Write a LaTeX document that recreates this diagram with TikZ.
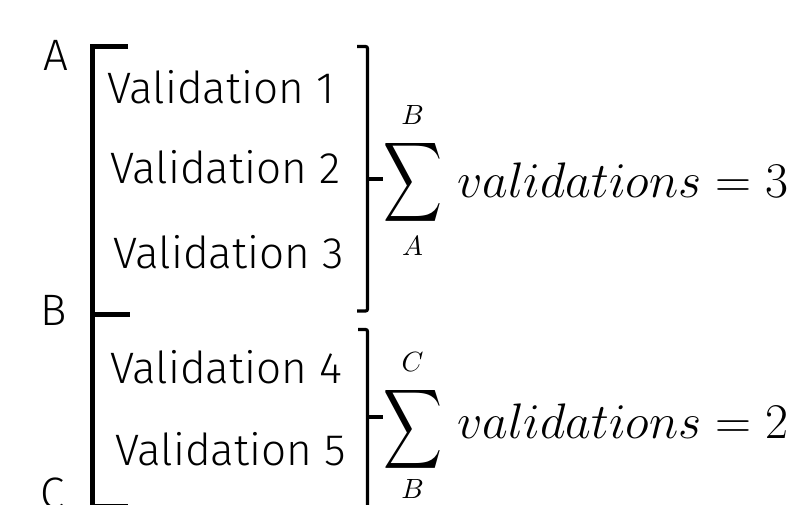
\documentclass[tikz,border=0pt]{standalone}
\usepackage{fontspec}
\usepackage{graphicx}
\IfFontExistsTF{Fira Sans Light}{\newfontfamily\lightfont{Fira Sans Light}}{%
  \IfFontExistsTF{Lato Light}{\newfontfamily\lightfont{Lato Light}}{%
    \newfontfamily\lightfont{Fira Sans}}}
\newcommand\limtxt[1]{\resizebox{!}{19pt}{$#1$}}
\newcommand\eqtxt[1]{\resizebox{331pt}{!}{\fontsize{60}{60}\selectfont$validations=#1$}}
\begin{document}
\begin{tikzpicture}[x=1pt,y=-1pt,
  lbl/.style={font=\lightfont\fontsize{44}{44}\selectfont, inner sep=0pt, anchor=base west},
  lim/.style={inner sep=0pt},
  sumtxt/.style={inner sep=0pt, anchor=base west},
  bigbr/.style={line width=5pt, line cap=butt, line join=miter},
  smallbr/.style={line width=3.2pt, line cap=butt, rounded corners=2pt}]
\useasboundingbox (0,0) rectangle (794,504);
\clip (0,0) rectangle (794,504);
% left labels
\node[lbl] (lA) at (43,70) {A};
\node[lbl] (lB) at (40,325) {B};
\node[lbl] (lC) at (40,508) {C};
% validations
\node[lbl] (v1) at (107,103) {Validation 1};
\node[lbl] (v2) at (110,183) {Validation 2};
\node[lbl] (v3) at (113,268) {Validation 3};
\node[lbl] (v4) at (110,383) {Validation 4};
\node[lbl] (v5) at (115,465) {Validation 5};
% left big bracket
\draw[bigbr] (128,46.5) -- (92.5,46.5) -- (92.5,506) -- (128,506);
\draw[bigbr] (92.5,314) -- (130,314);
% right brackets
\coordinate (t1) at (367.5,179);
\coordinate (t2) at (367.5,417);
\draw[smallbr] (357,46.5) -- (367.5,46.5) -- (367.5,311) -- (357,311);
\draw[smallbr] (358,329.5) -- (367.5,329.5) -- (367.5,520);
% sums
\node[inner sep=0pt] (s1) at (412.5,182.5) {\resizebox*{59pt}{89pt}{$\displaystyle\sum$}};
\node[inner sep=0pt] (s2) at (412.5,429) {\resizebox*{59pt}{89pt}{$\displaystyle\sum$}};
\draw[line width=3.2pt] (t1) -- (t1 -| s1.west);
\draw[line width=3.2pt] (t2) -- (t2 -| s2.west);
\node[lim] (b1) at (412.5,114.5) {\limtxt{B}};
\node[lim] (a1) at (412.5,246) {\limtxt{A}};
\node[lim] (c2) at (412.5,362) {\limtxt{C}};
\node[lim] (b2) at (412.5,489) {\limtxt{B}};
\node[sumtxt] (e1) at (457,197) {\eqtxt{3}};
\node[sumtxt] (e2) at (457,438) {\eqtxt{2}};
\end{tikzpicture}
\end{document}
